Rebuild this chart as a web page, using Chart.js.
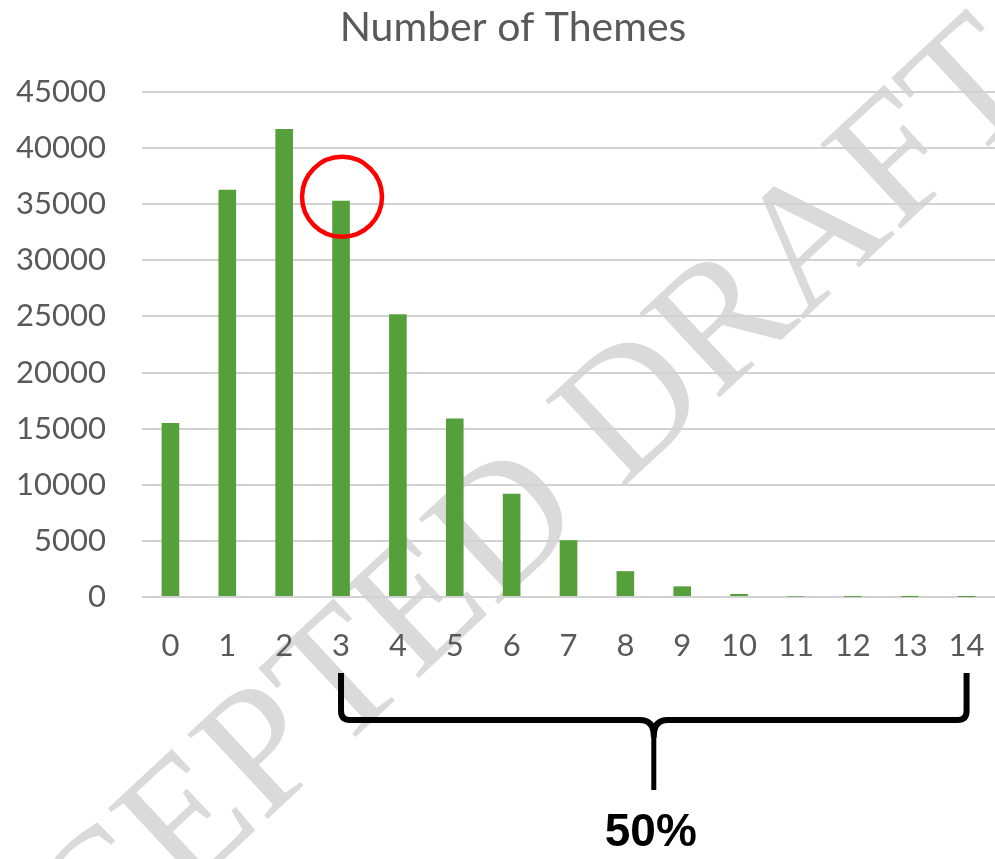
<!DOCTYPE html>
<html>
<head>
<meta charset="utf-8">
<title>Number of Themes</title>
<script src="https://cdn.jsdelivr.net/npm/chart.js@4/dist/chart.umd.min.js"></script>
<style>
  html, body { margin: 0; padding: 0; background: #ffffff; }
  #wrap { width: 995px; height: 859px; position: relative; }
</style>
</head>
<body>
<div id="wrap"><canvas id="chart" width="995" height="859"></canvas></div>
<script>
// Categories: number of themes per item
const categories = ['0', '1', '2', '3', '4', '5', '6', '7', '8', '9', '10', '11', '12', '13', '14'];
// Count of items for each number of themes
const themeCounts = [15500, 36300, 41700, 35300, 25200, 15900, 9200, 5050, 2300, 950, 270, 40, 8, 2, 1];
// Value axis ticks
const yTicks = [0, 5000, 10000, 15000, 20000, 25000, 30000, 35000, 40000, 45000];

const chartTitle = 'Number of Themes';
const circledCategory = '3';
const braceFrom = '3';
const braceTo = '14';
const braceLabel = '50%';
const watermarkText = 'ACCEPTED DRAFT';

const textGray = '#595959';
const barGreen = '#55A03B';

// Diagonal watermark painted underneath everything else
const watermarkPlugin = {
  id: 'watermark',
  beforeDraw(chart) {
    const ctx = chart.ctx;
    ctx.save();
    ctx.translate(450, 585);
    ctx.rotate(-43 * Math.PI / 180);
    ctx.font = 'normal 178px "Liberation Serif", "DejaVu Serif", serif';
    ctx.fillStyle = '#dadada';
    ctx.textAlign = 'center';
    ctx.textBaseline = 'middle';
    ctx.fillText(watermarkText, 0, 0);
    ctx.restore();
  }
};

// Chart heading, centred over the plot and value labels
const headingPlugin = {
  id: 'heading',
  afterDraw(chart) {
    const ctx = chart.ctx;
    ctx.save();
    ctx.font = 'normal 41px Lato, sans-serif';
    ctx.fillStyle = textGray;
    ctx.textAlign = 'center';
    ctx.textBaseline = 'middle';
    ctx.fillText(chartTitle, 513, 28);
    ctx.restore();
  }
};

// Red circle around one bar's top and a curly brace spanning a range of categories
const annotationPlugin = {
  id: 'annotations',
  afterDraw(chart) {
    const ctx = chart.ctx;
    const xs = chart.scales.x;
    const ys = chart.scales.y;

    // circle
    const ci = categories.indexOf(circledCategory);
    const cx = xs.getPixelForValue(ci) + 1;
    const cy = ys.getPixelForValue(themeCounts[ci]) - 4;
    ctx.save();
    ctx.beginPath();
    ctx.arc(cx, cy, 40, 0, Math.PI * 2);
    ctx.lineWidth = 4.5;
    ctx.strokeStyle = '#ff0000';
    ctx.stroke();
    ctx.restore();

    // brace
    const x0 = xs.getPixelForValue(categories.indexOf(braceFrom));
    const x1 = xs.getPixelForValue(categories.indexOf(braceTo));
    const xm = (x0 + x1) / 2;
    const yTop = 673, yBar = 720, yTip = 790, r = 9;
    ctx.save();
    ctx.strokeStyle = '#000000';
    ctx.lineWidth = 6;
    ctx.lineJoin = 'round';
    ctx.beginPath();
    ctx.moveTo(x0, yTop);
    ctx.lineTo(x0, yBar - r);
    ctx.quadraticCurveTo(x0, yBar, x0 + r, yBar);
    ctx.lineTo(xm - 14, yBar);
    ctx.quadraticCurveTo(xm, yBar, xm, yBar + 16);
    ctx.quadraticCurveTo(xm, yBar, xm + 14, yBar);
    ctx.lineTo(x1 - r, yBar);
    ctx.quadraticCurveTo(x1, yBar, x1, yBar - r);
    ctx.lineTo(x1, yTop);
    ctx.stroke();
    ctx.beginPath();
    ctx.lineWidth = 5;
    ctx.moveTo(xm, yBar + 10);
    ctx.lineTo(xm, yTip);
    ctx.stroke();

    ctx.font = 'bold 46px "Liberation Sans", Arial, sans-serif';
    ctx.fillStyle = '#000000';
    ctx.textAlign = 'center';
    ctx.textBaseline = 'middle';
    ctx.fillText(braceLabel, xm - 3, 833);
    ctx.restore();
  }
};

new Chart(document.getElementById('chart'), {
  type: 'bar',
  data: {
    labels: categories,
    datasets: [{
      data: themeCounts,
      backgroundColor: barGreen,
      borderWidth: 0,
      barPercentage: 0.31,
      categoryPercentage: 1.0
    }]
  },
  options: {
    responsive: false,
    animation: false,
    layout: { padding: { left: 0, right: 0, top: 92, bottom: 0 } },
    plugins: {
      legend: { display: false },
      tooltip: { enabled: false },
      title: { display: false }
    },
    scales: {
      x: {
        grid: { display: false, drawTicks: false },
        border: { display: false },
        ticks: {
          color: textGray,
          font: { family: 'Lato', size: 31 },
          padding: 30,
          maxRotation: 0,
          autoSkip: false
        },
        afterFit(scale) {
          scale.height = 262;
          scale.paddingLeft = 0;
          scale.paddingRight = 0;
        }
      },
      y: {
        min: 0,
        max: 45000,
        grid: { color: '#d2d2d2', lineWidth: 2, drawTicks: false },
        border: { display: false },
        ticks: {
          color: textGray,
          font: { family: 'Lato', size: 31 },
          padding: 36,
          stepSize: 5000,
          callback: (v) => String(v)
        },
        afterBuildTicks(scale) { scale.ticks = yTicks.map(v => ({ value: v })); },
        afterFit(scale) {
          scale.width = 142;
          scale.paddingTop = 0;
          scale.paddingBottom = 0;
        }
      }
    }
  },
  plugins: [watermarkPlugin, annotationPlugin, headingPlugin]
});
</script>
</body>
</html>
